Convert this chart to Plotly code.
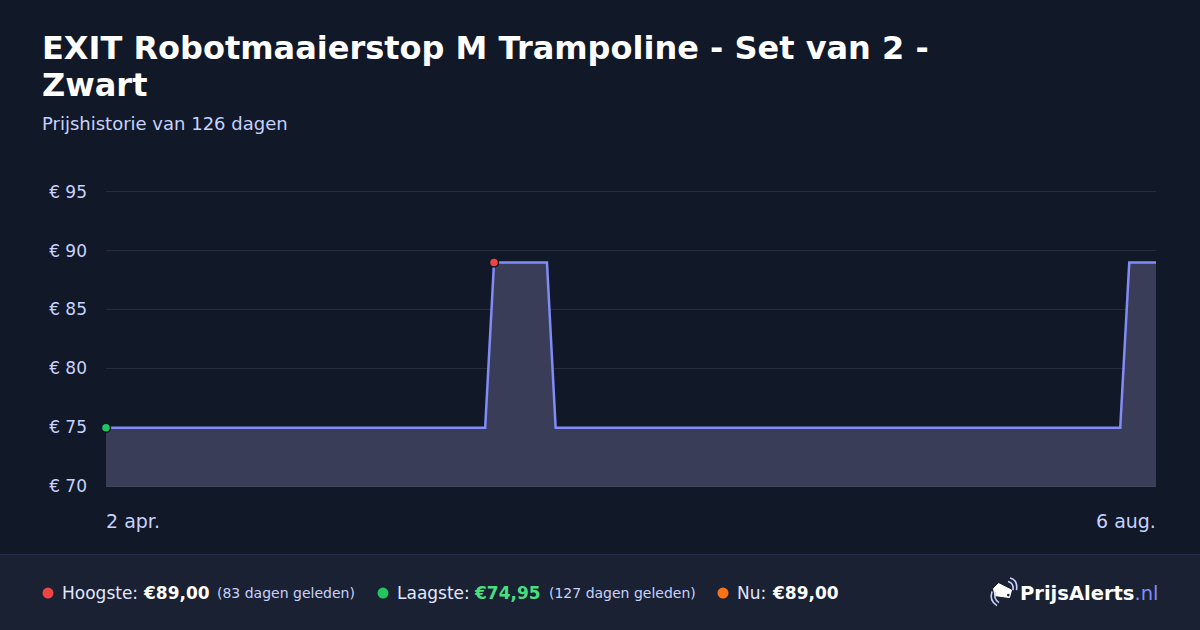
import plotly.graph_objects as go

# ---- data ----
dates = [
    "2025-04-02 00:00", "2025-05-17 12:00", "2025-05-18 13:30", "2025-05-24 22:00",
    "2025-05-25 23:00", "2025-08-01 17:00", "2025-08-02 19:00", "2025-08-06 00:00",
]
prices = [74.95, 74.95, 89.00, 89.00, 74.95, 74.95, 89.00, 89.00]
y_ticks = [70, 75, 80, 85, 90, 95]
x_labels = ["2 apr.", "6 aug."]
x_label_dates = ["2025-04-02", "2025-08-06"]

title_line1 = "EXIT Robotmaaierstop M Trampoline - Set van 2 -"
title_line2 = "Zwart"
subtitle = "Prijshistorie van 126 dagen"

BG = "#111827"
FOOT = "#1a2132"
LINE = "#818cf8"
FILL = "#3a3d57"
TICK = "#c7d2fe"
FONT = "DejaVu Sans"

Y0, Y1 = 70, 96
L, R, B = 106, 1156, 486
T = B - (B - 192) * (Y1 - Y0) / 25.0
W, H = 1200, 630


def px(x):
    return (x - L) / (R - L)


def py(y):
    return (B - y) / (B - T)


fig = go.Figure()
fig.add_trace(go.Scatter(
    x=dates, y=prices, mode="lines", fill="tozeroy", fillcolor=FILL,
    line=dict(color=LINE, width=2.5), hoverinfo="skip", showlegend=False,
))
imax = prices.index(max(prices))
imin = prices.index(min(prices))
fig.add_trace(go.Scatter(
    x=[dates[imin]], y=[prices[imin]], mode="markers",
    marker=dict(color="#22c55e", size=9, line=dict(color=BG, width=1.5)),
    showlegend=False, hoverinfo="skip", cliponaxis=False,
))
fig.add_trace(go.Scatter(
    x=[dates[imax]], y=[prices[imax]], mode="markers",
    marker=dict(color="#ef4444", size=9, line=dict(color=BG, width=1.5)),
    showlegend=False, hoverinfo="skip", cliponaxis=False,
))

shapes = []
shapes.append(dict(type="rect", xref="paper", yref="paper", x0=px(0), x1=px(W),
                   y0=py(H), y1=py(554), fillcolor=FOOT, line=dict(width=0), layer="below"))
shapes.append(dict(type="line", xref="paper", yref="paper", x0=px(0), x1=px(W),
                   y0=py(554.5), y1=py(554.5), line=dict(color="#28324d", width=1)))

annotations = []


def ann(text, x, y, size, color, bold=False, xanchor="left", yanchor="middle", family=FONT):
    if bold:
        text = "<b>" + text + "</b>"
    annotations.append(dict(text=text, x=px(x), y=py(y), xref="paper", yref="paper",
                            xanchor=xanchor, yanchor=yanchor, showarrow=False,
                            font=dict(family=family, size=size, color=color)))


ann(title_line1, 40, 48, 32, "#ffffff", bold=True)
ann(title_line2, 40, 85, 32, "#ffffff", bold=True)
ann(subtitle, 40, 124, 18, "#c7d2fe")

for lab, d, anc in zip(x_labels, x_label_dates, ["left", "right"]):
    annotations.append(dict(text=lab, x=d, y=py(521), xref="x", yref="paper",
                            xanchor=anc, yanchor="middle", showarrow=False,
                            xshift=-2 if anc == "left" else 2,
                            font=dict(family=FONT, size=19, color=TICK)))

dots = [(48, "#ef4444"), (383, "#22c55e"), (723, "#f97316")]
for x, c in dots:
    shapes.append(dict(type="circle", xref="paper", yref="paper",
                       x0=px(x - 5.5), x1=px(x + 5.5), y0=py(598.5), y1=py(587.5),
                       fillcolor=c, line=dict(width=0)))
FY = 593
ann("Hoogste:", 60, FY, 17, "#e0e7ff")
ann("€89,00", 141, FY, 17, "#ffffff", bold=True)
ann("(83 dagen geleden)", 215, FY, 14, "#c7d2fe")
ann("Laagste:", 395, FY, 17, "#e0e7ff")
ann("€74,95", 472, FY, 17, "#4ade80", bold=True)
ann("(127 dagen geleden)", 547, FY, 14, "#c7d2fe")
ann("Nu:", 735, FY, 17, "#e0e7ff")
ann("€89,00", 770, FY, 17, "#ffffff", bold=True)

ann("<b>PrijsAlerts</b><span style='color:#818cf8'>.nl</span>", 1160, FY, 19.5, "#ffffff",
    xanchor="right")


def P(a, b):
    return f"{px(a):.5f},{py(b):.5f}"


# tag icon
tag = [(993.5, 588.5), (998.5, 583.5), (1011.5, 590), (1009.5, 597.5), (995, 595.5)]
shapes.append(dict(type="path", xref="paper", yref="paper",
                   path="M " + " L ".join(P(a, b) for a, b in tag) + " Z",
                   fillcolor="#ffffff", line=dict(color="#ffffff", width=1)))
shapes.append(dict(type="circle", xref="paper", yref="paper",
                   x0=px(1007), x1=px(1009.6), y0=py(596.3), y1=py(593.7),
                   fillcolor=FOOT, line=dict(width=0)))
arcs = [
    ((995.5, 592), (993, 599), (999, 602.5)),
    ((992, 591.5), (989, 601), (997, 605.5)),
    ((1008, 581.5), (1014, 583), (1013, 590)),
    ((1010, 578), (1018, 580), (1016.5, 590)),
]
for s, c, e in arcs:
    shapes.append(dict(type="path", xref="paper", yref="paper",
                       path=f"M {P(*s)} Q {P(*c)} {P(*e)}",
                       line=dict(color="#c7d2fe", width=1.6)))

fig.update_layout(
    width=W, height=H,
    paper_bgcolor=BG, plot_bgcolor=BG,
    margin=dict(l=L, r=W - R, t=T, b=H - B, pad=0),
    font=dict(family=FONT, color=TICK),
    shapes=shapes, annotations=annotations,
    xaxis=dict(type="date", range=["2025-04-02", "2025-08-06"], showgrid=False,
               showticklabels=False, zeroline=False, showline=True,
               linecolor="#3f4556", linewidth=1, fixedrange=True),
    yaxis=dict(range=[Y0, Y1], tickvals=y_ticks, ticktext=[f"€ {v}" for v in y_ticks],
               showgrid=True, gridcolor="#252c3c", gridwidth=1, zeroline=False,
               showline=False, ticks="", ticklabelstandoff=18,
               tickfont=dict(family=FONT, size=17, color=TICK), fixedrange=True),
    hovermode=False,
)

fig.write_html("out.html", config={"displayModeBar": False},
               post_script="document.body.style.margin='0';document.body.style.background='#111827';")
